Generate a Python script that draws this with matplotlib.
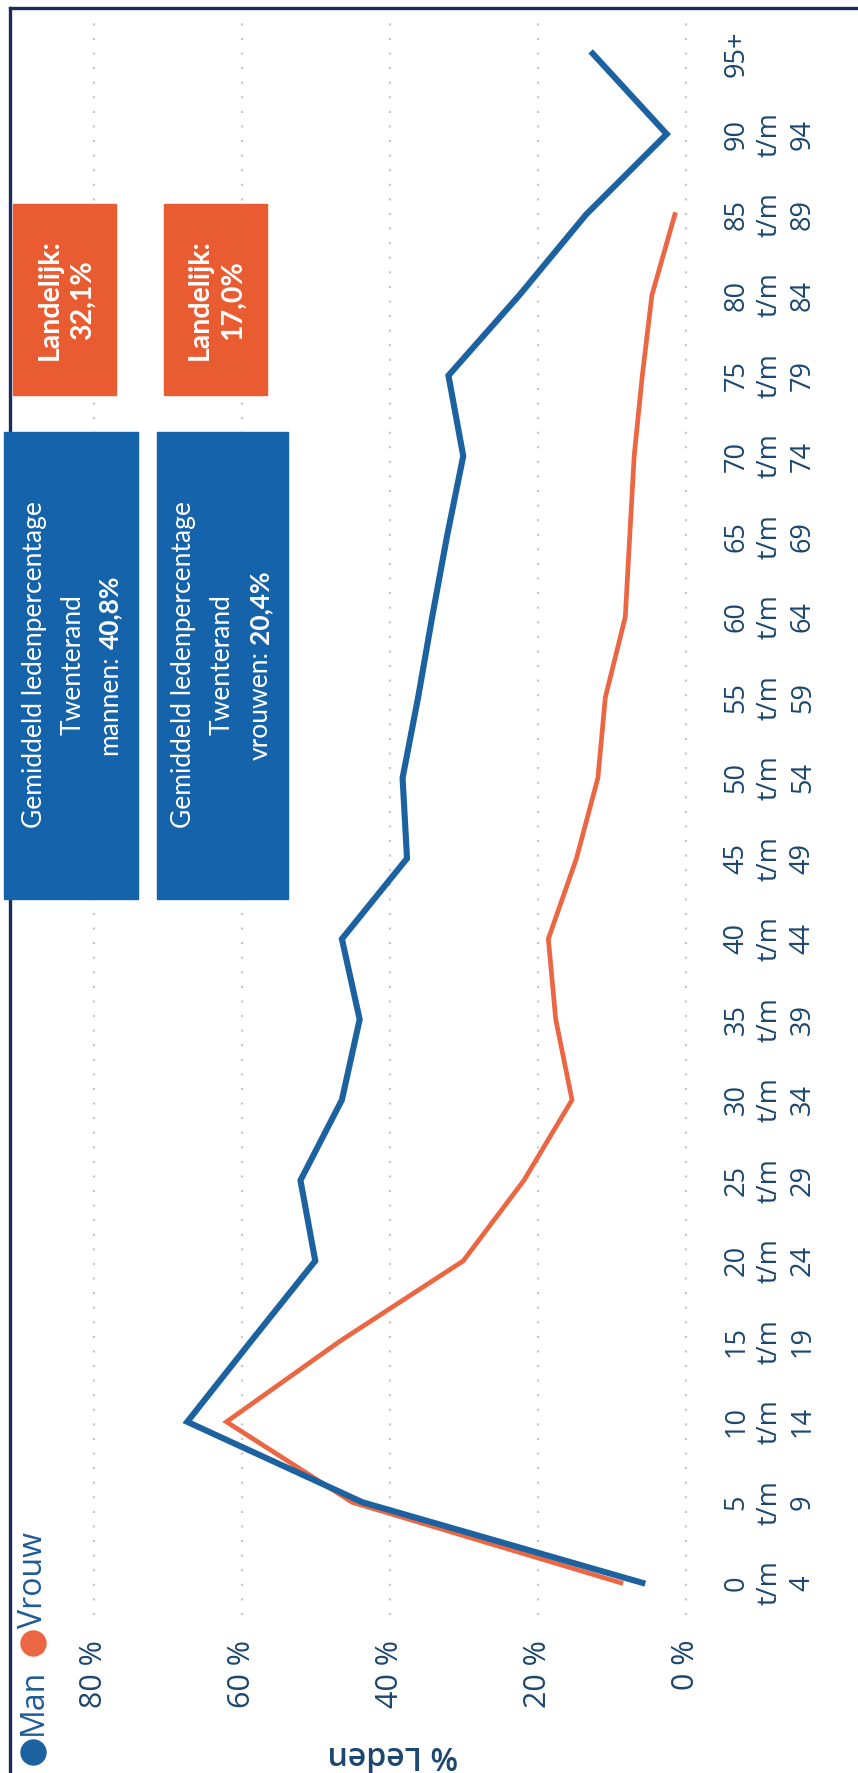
import matplotlib
matplotlib.use("Agg")
import matplotlib.pyplot as plt
from matplotlib.patches import Rectangle
from matplotlib.lines import Line2D

age_groups = ["0\nt/m\n4", "5\nt/m\n9", "10\nt/m\n14", "15\nt/m\n19", "20\nt/m\n24",
              "25\nt/m\n29", "30\nt/m\n34", "35\nt/m\n39", "40\nt/m\n44", "45\nt/m\n49",
              "50\nt/m\n54", "55\nt/m\n59", "60\nt/m\n64", "65\nt/m\n69", "70\nt/m\n74",
              "75\nt/m\n79", "80\nt/m\n84", "85\nt/m\n89", "90\nt/m\n94", "95+"]
man_pct = [5.9, 43.7, 67.4, 58.8, 50.1, 52.1, 46.5, 44.1, 46.5, 37.7,
           38.3, 36.2, 34.3, 32.3, 30.1, 32.1, 22.5, 13.5, 2.6, 12.6]
vrouw_pct = [8.8, 45.1, 62.1, 46.8, 30.1, 21.9, 15.4, 17.6, 18.6, 14.8,
             11.9, 10.9, 8.2, 7.6, 7.0, 5.9, 4.6, 1.5]
value_ticks = [0, 20, 40, 60, 80]
value_labels = ["0 %", "20 %", "40 %", "60 %", "80 %"]

MAN = "#1c62a0"
VROUW = "#eb6743"
BOX_BLUE = "#1563ab"
BOX_ORANGE = "#e95b31"
TXT = "#1b466f"

W, H, DPI = 858, 1773, 100
plt.rcParams["font.family"] = ["Open Sans", "DejaVu Sans"]

fig = plt.figure(figsize=(W / DPI, H / DPI), dpi=DPI)


def fx(px):
    return px / W


def fy(py):
    return 1 - py / H


# plot area (chart is turned 90 degrees: values run right to left)
ax = fig.add_axes([fx(89.6), fy(1615), (690.4 - 89.6) / W, (1615 - 23) / H])
idx = list(range(len(age_groups)))
ax.plot(vrouw_pct, idx[:len(vrouw_pct)], color=VROUW, lw=3.4, zorder=3,
        solid_joinstyle="miter")
ax.plot(man_pct, idx, color=MAN, lw=4.4, zorder=4, solid_joinstyle="miter")

ax.set_xlim(80.6, -0.6)
ax.set_ylim(-0.4, 19.38)
ax.set_xticks(value_ticks, value_labels)
ax.set_yticks(idx, age_groups)
ax.yaxis.tick_right()
ax.tick_params(axis="x", length=0, pad=18, labelrotation=90, labelsize=22, labelcolor=TXT)
ax.tick_params(axis="y", length=0, pad=23, labelrotation=90, labelsize=19.5, labelcolor=TXT)
for lab in ax.get_yticklabels():
    lab.set_ha("left")
    lab.set_va("center")
    lab.set_multialignment("center")
    lab.set_linespacing(1.25)
ax.grid(axis="x", color="#c4c4c4", linestyle=(0, (1, 6)), lw=1.5)
ax.set_axisbelow(True)
for s in ax.spines.values():
    s.set_visible(False)

# scan border (left and top)
fig.add_artist(Line2D([fx(10), fx(10)], [fy(8), 0], color="#1c2d5c", lw=2.4,
                      transform=fig.transFigure))
fig.add_artist(Line2D([fx(10), 1], [fy(8), fy(8)], color="#1c2d5c", lw=2.4,
                      transform=fig.transFigure))


def box(x0, y0, x1, y1, color):
    fig.add_artist(Rectangle((fx(x0), fy(y1)), (x1 - x0) / W, (y1 - y0) / H,
                             transform=fig.transFigure, facecolor=color,
                             edgecolor=color, lw=1, zorder=5))


box(13, 204, 116, 395, BOX_ORANGE)
box(164, 204, 267, 395, BOX_ORANGE)
box(4, 432, 138, 899, BOX_BLUE)
box(157, 432, 288, 899, BOX_BLUE)

fig.text(fx(66), fy(300), "Landelijk:\n32,1%", rotation=90, ha="center", va="center",
         color="white", fontsize=20.5, weight="bold", family="Lato",
         multialignment="center", linespacing=1.35, zorder=6)
fig.text(fx(216), fy(300), "Landelijk:\n17,0%", rotation=90, ha="center", va="center",
         color="white", fontsize=20.5, weight="bold", family="Lato",
         multialignment="center", linespacing=1.35, zorder=6)

renderer = fig.canvas.get_renderer()


def box_lines(xs, yc, first, second, normal, bold, size):
    kw = dict(rotation=90, ha="center", va="center", color="white",
              fontsize=size, family="Lato", zorder=6)
    fig.text(fx(xs[0]), fy(yc), first, **kw)
    fig.text(fx(xs[1]), fy(yc), second, **kw)
    kw["va"] = "bottom"
    t1 = fig.text(fx(xs[2]), fy(yc), normal, **kw)
    t2 = fig.text(fx(xs[2]), fy(yc), bold, weight="bold", **kw)
    h1 = t1.get_window_extent(renderer).height
    h2 = t2.get_window_extent(renderer).height
    gap = size * 0.25 * DPI / 72
    start = yc + (h1 + gap + h2) / 2
    t1.set_y(fy(start))
    t2.set_y(fy(start - h1 - gap))


box_lines([35, 73, 110], 665, "Gemiddeld ledenpercentage", "Twenterand",
          "mannen:", "40,8%", 19)
box_lines([184, 222, 260], 665, "Gemiddeld ledenpercentage", "Twenterand",
          "vrouwen:", "20,4%", 19)

# legend
fig.add_artist(Line2D([fx(33)], [fy(1752)], marker="o", ms=18, color=MAN,
                      transform=fig.transFigure))
fig.add_artist(Line2D([fx(33)], [fy(1643)], marker="o", ms=18, color=VROUW,
                      transform=fig.transFigure))
fig.text(fx(33), fy(1702), "Man", rotation=90, ha="center", va="center",
         fontsize=23, color="#1f5b95")
fig.text(fx(33), fy(1580), "Vrouw", rotation=90, ha="center", va="center",
         fontsize=23, color="#1f5b95")

fig.text(fx(393), fy(1755), "% Leden", rotation=180, ha="center", va="center",
         fontsize=23, weight="semibold", color=TXT)

fig.savefig("out.png", dpi=DPI)
